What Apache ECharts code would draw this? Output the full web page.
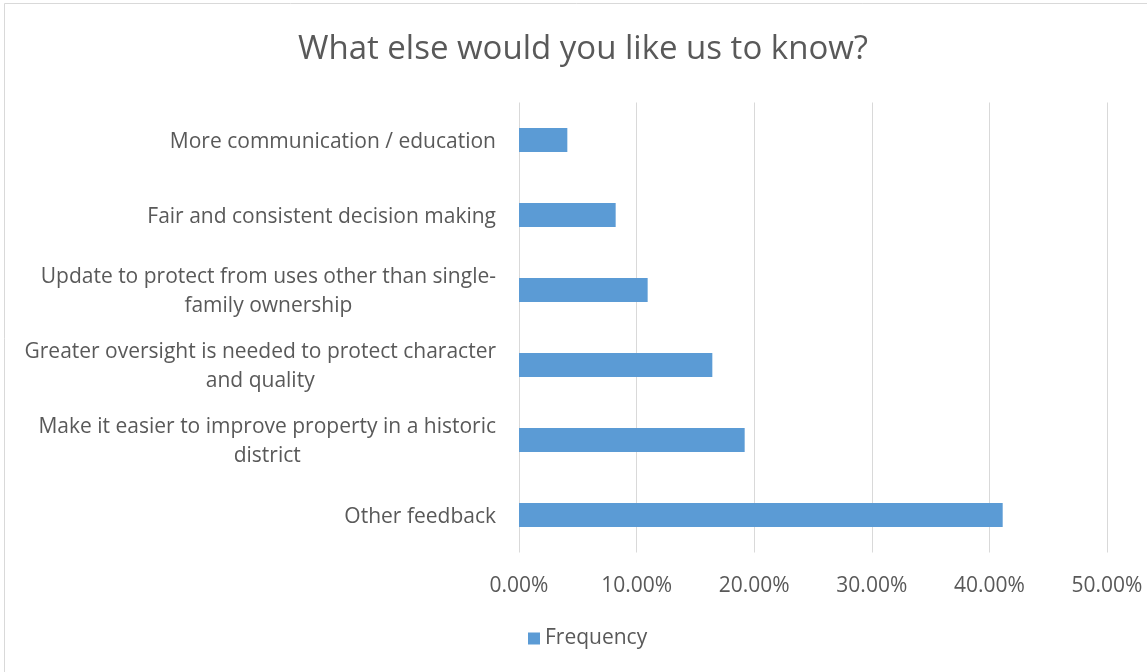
<!DOCTYPE html>
<html>
<head>
<meta charset="utf-8">
<style>
  html, body { margin: 0; padding: 0; background: #ffffff; }
  #chart { width: 1147px; height: 672px; }
</style>
<script src="https://cdn.jsdelivr.net/npm/echarts@6/dist/echarts.min.js"></script>
</head>
<body>
<div id="chart"></div>
<script>
const titleText = 'What else would you like us to know?';
const seriesName = 'Frequency';
const categories = [
  'More communication / education',
  'Fair and consistent decision making',
  'Update to protect from uses other than single-\nfamily ownership',
  'Greater oversight is needed to protect character\nand quality',
  'Make it easier to improve property in a historic\ndistrict',
  'Other feedback'
];
const frequencyValues = [4.11, 8.22, 10.94, 16.44, 19.19, 41.13];
const xTickMin = 0;
const xTickMax = 50;
const xTickInterval = 10;

const FONT = 'Open Sans';
const TEXT = '#595959';

const chart = echarts.init(document.getElementById('chart'), null, { renderer: 'canvas' });
chart.setOption({
  backgroundColor: '#ffffff',
  animation: false,
  graphic: [{
    type: 'rect',
    shape: { x: 4.5, y: 3.5, width: 1200, height: 720 },
    style: { fill: 'none', stroke: '#d9d9d9', lineWidth: 1 },
    silent: true
  }],
  title: {
    text: titleText,
    left: 578,
    top: 28,
    textAlign: 'center',
    textStyle: { fontFamily: FONT, fontSize: 33, fontWeight: 'normal', color: TEXT }
  },
  legend: {
    data: [seriesName],
    left: 523,
    top: 623,
    icon: 'rect',
    itemWidth: 12,
    itemHeight: 12,
    itemGap: 10,
    textStyle: { fontFamily: FONT, fontSize: 21, color: TEXT, lineHeight: 20 }
  },
  grid: { left: 519, right: 40, top: 102.5, bottom: 119.5, containLabel: false },
  xAxis: {
    type: 'value',
    min: xTickMin,
    max: xTickMax,
    interval: xTickInterval,
    axisLine: { show: false },
    axisTick: { show: false },
    splitLine: { show: true, lineStyle: { color: '#d9d9d9', width: 1 } },
    axisLabel: {
      margin: 23,
      fontFamily: FONT, fontSize: 21, color: TEXT,
      formatter: v => v.toFixed(2) + '%'
    }
  },
  yAxis: {
    type: 'category',
    inverse: true,
    data: categories,
    axisLine: { show: false },
    axisTick: { show: false },
    axisLabel: {
      margin: 23,
      padding: [4, 0, 0, 0],
      fontFamily: FONT, fontSize: 21, color: TEXT,
      lineHeight: 29,
      align: 'right',
      formatter: v => v.split('\n').map(s => '{c|' + s + '}').join('\n'),
      rich: { c: { fontFamily: FONT, fontSize: 21, color: TEXT, lineHeight: 29, align: 'center' } }
    }
  },
  series: [{
    name: seriesName,
    type: 'bar',
    data: frequencyValues,
    barCategoryGap: '68%',
    itemStyle: { color: '#5b9bd5' }
  }]
});
</script>
</body>
</html>
